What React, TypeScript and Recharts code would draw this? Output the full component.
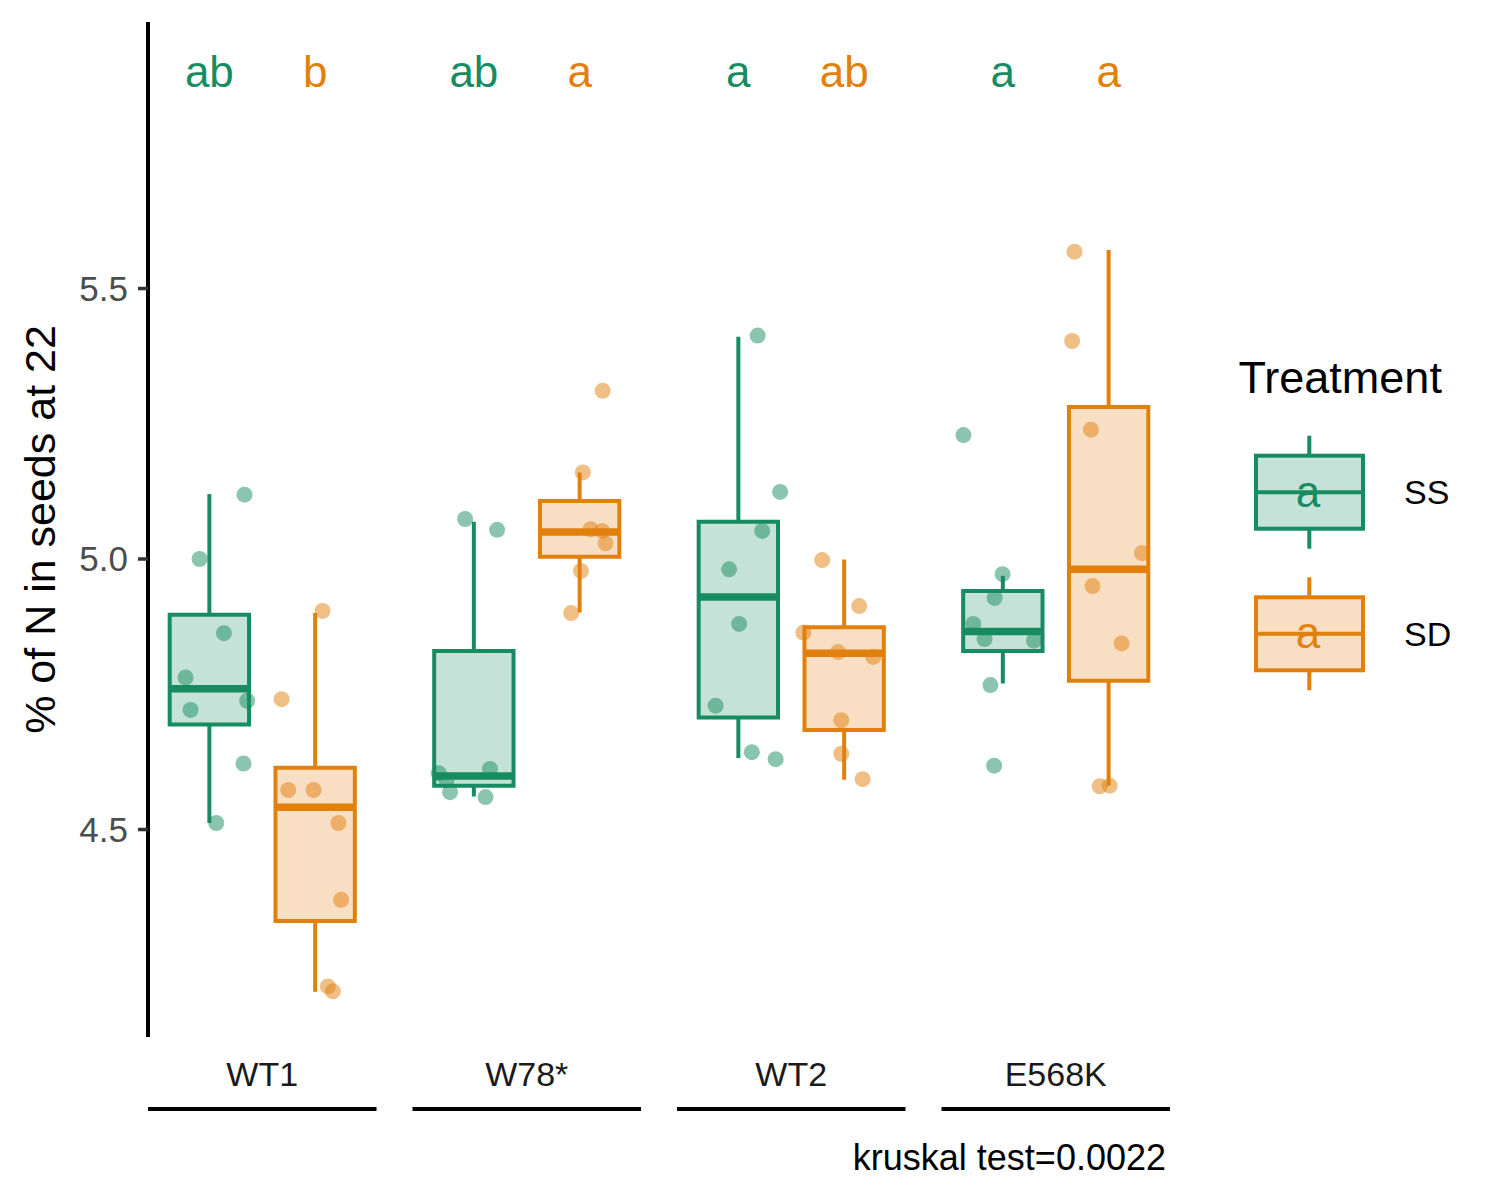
import React from "react"
import {
  ComposedChart,
  XAxis,
  YAxis,
  Scatter,
  ReferenceArea,
  ReferenceLine,
  Label,
} from "recharts"

const FONT = "'Liberation Sans', Arial, Helvetica, sans-serif"
const GREEN = "#178C62"
const ORANGE = "#E2800E"

const genotypes = ["WT1", "W78*", "WT2", "E568K"]
const treatments = ["SS", "SD"]

// box stats, one value per genotype
const ssLow = [4.512, 4.561, 4.632, 4.77]
const ssQ1 = [4.694, 4.581, 4.707, 4.83]
const ssMedian = [4.76, 4.599, 4.93, 4.866]
const ssQ3 = [4.897, 4.83, 5.069, 4.941]
const ssHigh = [5.12, 5.069, 5.411, 4.969]

const sdLow = [4.2, 4.901, 4.592, 4.581]
const sdQ1 = [4.331, 5.004, 4.684, 4.775]
const sdMedian = [4.541, 5.05, 4.826, 4.981]
const sdQ3 = [4.614, 5.107, 4.874, 5.281]
const sdHigh = [4.9, 5.16, 4.999, 5.571]

// jittered points [x position, value]
const ssPoints = [
  [0.933, 5.119], [0.763, 5.0], [0.855, 4.863], [0.71, 4.781], [0.943, 4.738], [0.729, 4.721], [0.929, 4.622], [0.826, 4.512],
  [1.767, 5.074], [1.888, 5.054], [1.667, 4.604], [1.861, 4.612], [1.697, 4.591], [1.71, 4.569], [1.844, 4.56],
  [2.873, 5.413], [2.958, 5.124], [2.89, 5.052], [2.765, 4.981], [2.803, 4.88], [2.714, 4.729], [2.851, 4.643], [2.941, 4.63],
  [3.651, 5.229], [3.799, 4.972], [3.769, 4.928], [3.688, 4.88], [3.731, 4.852], [3.918, 4.849], [3.753, 4.767], [3.767, 4.618],
]
const sdPoints = [
  [1.228, 4.904], [1.073, 4.741], [1.098, 4.573], [1.194, 4.573], [1.288, 4.512], [1.298, 4.37], [1.248, 4.21], [1.267, 4.201],
  [2.287, 5.311], [2.212, 5.16], [2.241, 5.055], [2.285, 5.052], [2.298, 5.029], [2.205, 4.978], [2.168, 4.9],
  [3.117, 4.998], [3.257, 4.913], [3.046, 4.864], [3.177, 4.828], [3.31, 4.819], [3.189, 4.702], [3.189, 4.64], [3.27, 4.593],
  [4.071, 5.568], [4.062, 5.403], [4.133, 5.239], [4.326, 5.011], [4.139, 4.95], [4.249, 4.844], [4.166, 4.58], [4.204, 4.581],
]

const ssLetters = ["ab", "ab", "a", "a"]
const sdLetters = ["b", "a", "ab", "a"]
const LETTER_Y = 5.9

const yTicks = [4.5, 5.0, 5.5]
const caption = "kruskal test=0.0022"

const X_MIN = 0.568
const X_MAX = 4.432
const Y_MIN = 4.1165
const Y_MAX = 5.9926
const DODGE = 0.2
const BOX_HALF = 0.15
const BRACKET_HALF = 0.432
const PLOT_W = 1022
const PX_PER_UNIT = PLOT_W / (X_MAX - X_MIN)

const groups = [
  { name: treatments[0], color: GREEN, offset: -DODGE, low: ssLow, q1: ssQ1, med: ssMedian, q3: ssQ3, high: ssHigh, points: ssPoints, letters: ssLetters },
  { name: treatments[1], color: ORANGE, offset: DODGE, low: sdLow, q1: sdQ1, med: sdMedian, q3: sdQ3, high: sdHigh, points: sdPoints, letters: sdLetters },
]

function GroupTick(props: any) {
  const { x, y, payload } = props
  const half = BRACKET_HALF * PX_PER_UNIT
  return (
    <g>
      <text x={x} y={y + 49} textAnchor="middle" fontSize={34} fill="#1A1A1A" fontFamily={FONT}>
        {genotypes[payload.value - 1]}
      </text>
      <line x1={x - half} x2={x + half} y1={y + 72} y2={y + 72} stroke="#000" strokeWidth={4} />
    </g>
  )
}

function boxes(g: (typeof groups)[number]) {
  return genotypes.flatMap((name, i) => {
    const c = i + 1 + g.offset
    return [
      <ReferenceLine key={`${g.name}-${name}-up`} segment={[{ x: c, y: g.high[i] }, { x: c, y: g.q3[i] }]} stroke={g.color} strokeWidth={4} />,
      <ReferenceLine key={`${g.name}-${name}-lo`} segment={[{ x: c, y: g.q1[i] }, { x: c, y: g.low[i] }]} stroke={g.color} strokeWidth={4} />,
      <ReferenceArea key={`${g.name}-${name}-box`} x1={c - BOX_HALF} x2={c + BOX_HALF} y1={g.q1[i]} y2={g.q3[i]} fill={g.color} fillOpacity={0.25} stroke={g.color} strokeWidth={4} />,
      <ReferenceLine key={`${g.name}-${name}-med`} segment={[{ x: c - BOX_HALF, y: g.med[i] }, { x: c + BOX_HALF, y: g.med[i] }]} stroke={g.color} strokeWidth={7.5} />,
    ]
  })
}

function LegendBox() {
  return (
    <svg width={300} height={380} style={{ position: "absolute", left: 1200, top: 340 }}>
      <text x={38.5} y={53} fontSize={45} fontFamily={FONT} fill="#000">Treatment</text>
      {groups.map((g, i) => {
        const top = 115.7 + i * 141.6
        const mid = top + 36.5
        return (
          <g key={g.name}>
            <line x1={109.3} x2={109.3} y1={top - 20} y2={top} stroke={g.color} strokeWidth={4} />
            <line x1={109.3} x2={109.3} y1={top + 73} y2={top + 93} stroke={g.color} strokeWidth={4} />
            <rect x={56} y={top} width={107} height={73} fill={g.color} fillOpacity={0.25} stroke={g.color} strokeWidth={4} />
            <line x1={56} x2={163} y1={mid} y2={mid} stroke={g.color} strokeWidth={4} />
            <text x={108} y={mid + 14.5} textAnchor="middle" fontSize={44} fontFamily={FONT} fill={g.color}>a</text>
            <text x={204} y={mid + 12} fontSize={34} fontFamily={FONT} fill="#000">{g.name}</text>
          </g>
        )
      })}
    </svg>
  )
}

export default function App() {
  return (
    <div style={{ position: "absolute", left: 0, top: 0, width: 1500, height: 1200, background: "#fff" }}>
      <ComposedChart width={1500} height={1200} margin={{ top: 22, right: 330, bottom: 63, left: 18 }}>
        <XAxis
          type="number"
          dataKey="x"
          domain={[X_MIN, X_MAX]}
          ticks={[1, 2, 3, 4]}
          interval={0}
          allowDataOverflow
          axisLine={false}
          tickLine={false}
          tickSize={0}
          tickMargin={0}
          height={100}
          tick={<GroupTick />}
        >
          <Label
            content={(p: any) => (
              <text x={p.viewBox.x + p.viewBox.width - 4} y={p.viewBox.y + 133} textAnchor="end" fontSize={36} fontFamily={FONT} fill="#000">
                {caption}
              </text>
            )}
          />
        </XAxis>
        <YAxis
          type="number"
          dataKey="y"
          domain={[Y_MIN, Y_MAX]}
          ticks={yTicks}
          allowDataOverflow
          width={130}
          axisLine={{ stroke: "#000", strokeWidth: 4 }}
          tickLine={{ stroke: "#333", strokeWidth: 3.5 }}
          tickSize={10}
          tickMargin={10}
          tickFormatter={(v: number) => v.toFixed(1)}
          tick={{ fill: "#4D4D4D", fontSize: 35, fontFamily: FONT }}
        >
          <Label
            content={(p: any) => {
              const cx = 40
              const cy = p.viewBox.y + p.viewBox.height / 2
              return (
                <text x={cx} y={cy} transform={`rotate(-90 ${cx} ${cy})`} textAnchor="middle" dominantBaseline="central" fontSize={43} fontFamily={FONT} fill="#000">
                  % of N in seeds at 22
                </text>
              )
            }}
          />
        </YAxis>
        {boxes(groups[0])}
        {boxes(groups[1])}
        {groups.map((g) => (
          <Scatter
            key={`pts-${g.name}`}
            data={g.points.map(([x, y]) => ({ x, y }))}
            isAnimationActive={false}
            shape={(p: any) => <circle cx={p.cx} cy={p.cy} r={8} fill={g.color} fillOpacity={0.5} />}
          />
        ))}
        {groups.map((g) => (
          <Scatter
            key={`let-${g.name}`}
            data={g.letters.map((label, i) => ({ x: i + 1 + g.offset, y: LETTER_Y, label }))}
            isAnimationActive={false}
            shape={(p: any) => (
              <text x={p.cx} y={p.cy + 14.5} textAnchor="middle" fontSize={44} fontFamily={FONT} fill={g.color}>
                {p.payload.label}
              </text>
            )}
          />
        ))}
      </ComposedChart>
      <LegendBox />
    </div>
  )
}
